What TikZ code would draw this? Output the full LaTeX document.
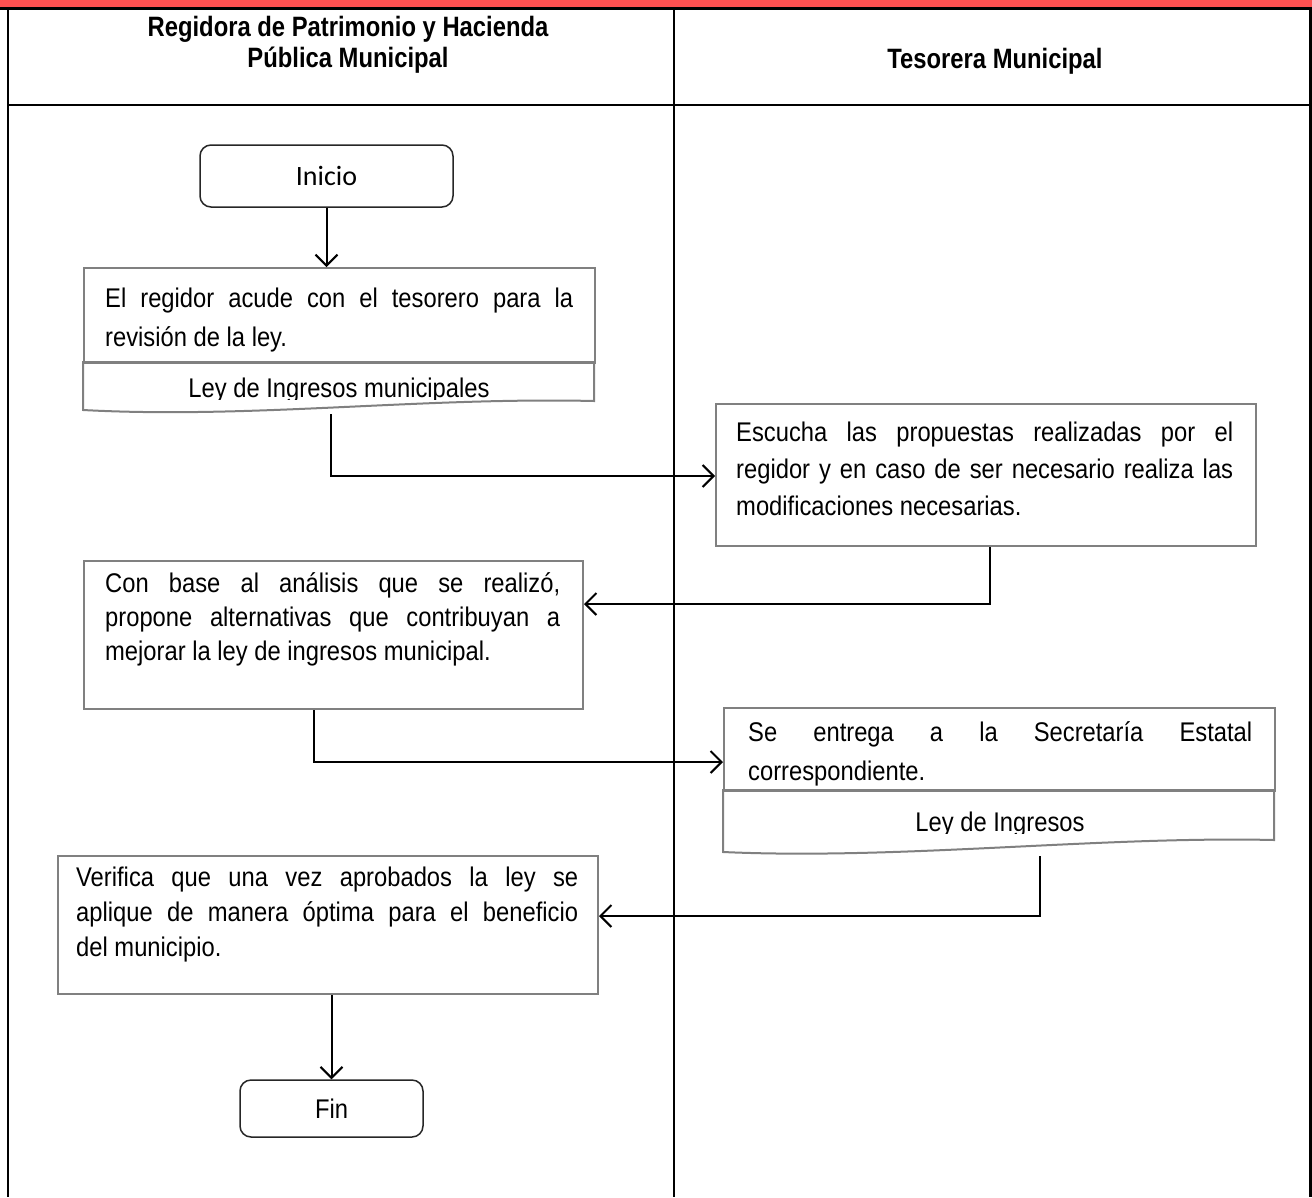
\documentclass[tikz,border=0pt]{standalone}
\usepackage{fontspec}
\setmainfont{Liberation Sans}[FakeStretch=0.88]
\newfontfamily\headfont{Liberation Sans}[FakeStretch=0.85]
\newfontfamily\calfont{Carlito}
\usetikzlibrary{arrows.meta,calc}
\definecolor{barred}{HTML}{FF5050}
\definecolor{boxgray}{HTML}{808080}
\hyphenpenalty=10000
\exhyphenpenalty=10000
\tikzset{
  lane/.style={line width=2.5pt, draw=black},
  procbox/.style={draw=boxgray, line width=2pt, fill=white, inner sep=0pt, anchor=north west},
  docline/.style={draw=boxgray, line width=2pt},
  term/.style={draw=black!85, line width=1.5pt, rounded corners=11pt, inner sep=0pt},
  flow/.style={line width=2pt, -{Straight Barb[length=11pt,width=22pt]}},
  body/.style={font=\fontsize{27}{#1}\selectfont, inner sep=0pt,
               align=justify, anchor=north west},
  body/.default=37,
  doctext/.style={font=\fontsize{27}{32}\selectfont, inner sep=0pt, anchor=base},
  head/.style={font=\headfont\bfseries\fontsize{28}{31}\selectfont, inner sep=0pt, align=center},
}
\begin{document}
\begin{tikzpicture}[x=1pt, y=-1pt]
\useasboundingbox (0,0) rectangle (1312,1197);

% swimlane frame
\fill[barred] (0,0) rectangle (1312,7);
\draw[lane, line width=3pt] (0,8.5) -- (1312,8.5);
\draw[lane] (8,8) -- (8,1197);
\draw[lane] (674,8) -- (674,1197);
\draw[lane] (1310.5,8) -- (1310.5,1197);
\draw[lane] (8,105) -- (1311,105);

% lane titles
\node[head, anchor=north] (lane1) at (348,16) {Regidora de Patrimonio y Hacienda\\ Pública Municipal};
\node[head, anchor=base] (lane2) at (995,68) {Tesorera Municipal};

% start
\node[term, minimum width=253pt, minimum height=62pt] (start) at (326.5,176)
  {\calfont\fontsize{28}{32}\selectfont Inicio};

% step 1 with document
\node[procbox, minimum width=511pt, minimum height=95pt] (b1) at (83,267) {};
\node[body=39, text width=468pt] (b1t) at (105,288)
  {El regidor acude con el tesorero para la\linebreak revisión de la ley.};
\draw[docline] (83,362) -- (83,410) .. controls (250,419) and (420,397) .. (594,401) -- (594,362) -- cycle;
\begin{scope}
  \clip (83,362) rectangle (594,399);
  \node[doctext] (d1t) at (339,397) {Ley de Ingresos municipales};
\end{scope}
\coordinate (d1out) at (331,414);

% step 2
\node[procbox, minimum width=540pt, minimum height=142pt] (b2) at (715,403) {};
\node[body=37, text width=497pt] (b2t) at (736,422)
  {Escucha las propuestas realizadas por el\linebreak regidor y en caso de ser necesario realiza las\linebreak modificaciones necesarias.};

% step 3
\node[procbox, minimum width=499pt, minimum height=148pt] (b3) at (83,560) {};
\node[body=34, text width=455pt] (b3t) at (105,572)
  {Con base al análisis que se realizó,\linebreak propone alternativas que contribuyan a\linebreak mejorar la ley de ingresos municipal.};

% step 4 with document
\node[procbox, minimum width=551pt, minimum height=83pt] (b4) at (723,707) {};
\node[body=39, text width=504pt] (b4t) at (748,721)
  {Se entrega a la Secretaría Estatal\linebreak correspondiente.};
\draw[docline] (723,790) -- (723,852) .. controls (900,860) and (1100,836) .. (1274,840) -- (1274,790) -- cycle;
\begin{scope}
  \clip (723,790) rectangle (1274,833);
  \node[doctext] (d4t) at (1000,831) {Ley de Ingresos};
\end{scope}
\coordinate (d4out) at (1040,856);

% step 5
\node[procbox, minimum width=540pt, minimum height=138pt] (b5) at (57,855) {};
\node[body=35, text width=502pt] (b5t) at (76,867)
  {Verifica que una vez aprobados la ley se\linebreak aplique de manera óptima para el beneficio\linebreak del municipio.};

% end
\node[term, minimum width=183pt, minimum height=57pt] (end) at (331.5,1108.5)
  {\fontsize{27}{32}\selectfont Fin};

% flow connectors
\draw[flow] (start.south) -- (start.south |- b1.north);
\draw[flow] (d1out) |- ($(b2.north west)+(0,73)$);
\draw[flow] ($(b2.south west)+(275,0)$) |- ($(b3.north east)+(0,44)$);
\draw[flow] ($(b3.south west)+(231,0)$) |- ($(b4.north west)+(0,55)$);
\draw[flow] (d4out) |- ($(b5.north east)+(0,61)$);
\draw[flow] (end.north |- b5.south) -- (end.north);
\end{tikzpicture}
\end{document}
